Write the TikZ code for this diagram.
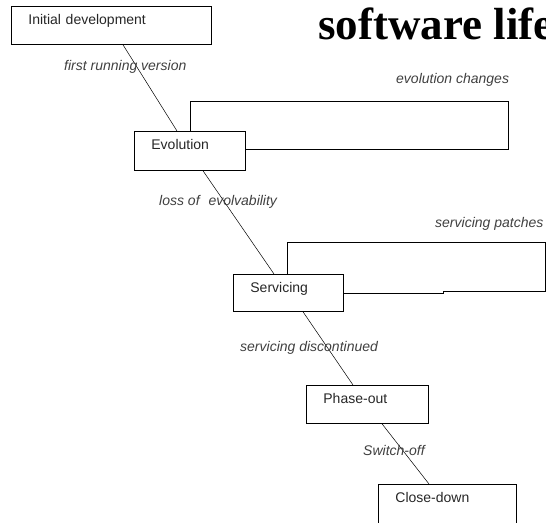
\documentclass[tikz,border=0pt]{standalone}
\usepackage{fontspec}
\setmainfont{Liberation Sans}
\newfontfamily\titlefont{Liberation Serif}
\usepackage{tikz}

\begin{document}
\begin{tikzpicture}[x=1pt, y=-1pt,
        stagebox/.style = {shape=rectangle, draw, anchor=north west,
          align=left, inner xsep=17pt, inner ysep=0pt, text height=18pt,
          line width=0.8pt, text=black!85,
          font=\fontsize{14pt}{16pt}\selectfont},
        tag/.style = {anchor=base west, inner sep=0pt, text=black!75,
          font=\fontsize{14pt}{16pt}\selectfont\itshape},
        link/.style = {line width=0.5pt},
        backloop/.style = {line width=0.8pt}]
  \useasboundingbox (0,0) rectangle (546,522);
  \node[anchor=base west, inner sep=0pt,
        font=\titlefont\bfseries\fontsize{45pt}{50pt}\selectfont] (title) at (318,39.3) {software life};

  \node[stagebox, text width=166pt, text depth=20pt] (init) at (11,6) {Initial development};
  \node[stagebox, text width=77pt, text depth=21pt] (evo) at (134,131) {Evolution};
  \node[stagebox, text width=76pt, text depth=19pt] (serv) at (233,274) {Servicing};
  \node[stagebox, text width=88pt, text depth=20pt] (phaseout) at (306,385) {Phase-out};
  \node[stagebox, text width=104pt, text depth=30pt] (close) at (378,484) {Close-down};

  \draw[link] ([xshift=112pt]init.south west) -- ([xshift=43pt]evo.north west);
  \draw[link] ([xshift=69pt]evo.south west) -- ([xshift=41pt]serv.north west);
  \draw[link] ([xshift=70pt]serv.south west) -- ([xshift=47pt]phaseout.north west);
  \draw[link] ([xshift=76pt]phaseout.south west) -- ([xshift=51pt]close.north west);

  \coordinate (evotop) at (508,101);
  \draw[backloop] ([xshift=56pt]evo.north west) |- (evotop) |- ([yshift=-18pt]evo.north east);
  \coordinate (servtop) at (545,242);
  \coordinate (servkink) at (443,291);
  \draw[backloop] ([xshift=54pt]serv.north west) |- (servtop) |- (servkink) -- ++(0,2)
    -- ([yshift=-19pt]serv.north east);

  \node[tag] (lfirst) at (64,70.7) {first running version};
  \node[tag] (lchanges) at (396,83.3) {evolution changes};
  \node[tag] (lloss) at (159,205) {loss of\hspace{5pt} evolvability};
  \node[tag] (lpatches) at (435,227.7) {servicing patches};
  \node[tag] (ldisc) at (240,351.7) {servicing discontinued};
  \node[tag] (lswitch) at (363,455) {Switch-off};
\end{tikzpicture}
\end{document}
